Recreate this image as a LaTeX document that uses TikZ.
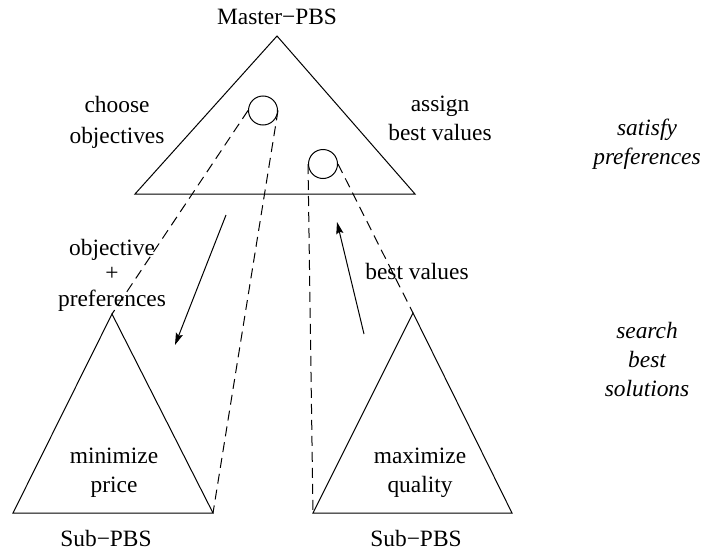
\documentclass[tikz,border=0pt]{standalone}
\usepackage{fontspec}
\setmainfont{Liberation Serif}
\usetikzlibrary{arrows.meta}
\begin{document}
\begin{tikzpicture}[x=0.5pt,y=-0.5pt,
  txt/.style={inner sep=0pt,align=center,font=\fontsize{11.7}{14.5}\selectfont},
  itxt/.style={txt,font=\fontsize{11.7}{14.5}\selectfont\itshape},
  edge/.style={line width=0.5pt,line join=miter},
  link/.style={line width=0.5pt,dash pattern=on 5pt off 3pt},
  hole/.style={circle,draw,line width=0.5pt,minimum size=14.5pt,inner sep=0pt},
  flow/.style={line width=0.5pt,-{Stealth[length=6pt,width=3.6pt,inset=1pt]}}]
  \useasboundingbox (0,0) rectangle (704,551);

  % master problem
  \coordinate (mtop) at (277,36);
  \coordinate (mleft) at (135,194);
  \coordinate (mright) at (415,194);
  \draw[edge] (mtop) -- (mleft) -- (mright) -- cycle;

  % left sub-problem
  \coordinate (ltop) at (112,314);
  \coordinate (lleft) at (13,513);
  \coordinate (lright) at (213,513);
  \draw[edge] (ltop) -- (lleft) -- (lright) -- cycle;

  % right sub-problem
  \coordinate (rtop) at (413,313);
  \coordinate (rleft) at (313,513);
  \coordinate (rright) at (512,513);
  \draw[edge] (rtop) -- (rleft) -- (rright) -- cycle;

  % variables of the master problem
  \node[hole] (c1) at (263,110.5) {};
  \node[hole] (c2) at (323,164) {};

  % projections onto the sub-problems
  \draw[link] (c1.west) -- (ltop);
  \draw[link] (c1.east) -- (lright);
  \draw[link] (c2.west) -- (rleft);
  \draw[link] (c2.east) -- (rtop);

  % messages
  \coordinate (a1s) at (226,215);
  \coordinate (a1e) at (175,345);
  \coordinate (a2s) at (364,334);
  \coordinate (a2e) at (337,222);
  \draw[flow] (a1s) -- (a1e);
  \draw[flow] (a2s) -- (a2e);

  % labels
  \node[txt] (master) at (277,17) {Master−PBS};
  \node[txt,font=\fontsize{11.7}{15.5}\selectfont] (choose) at (117,122.5) {choose\\objectives};
  \node[txt] (assign) at (440,118) {assign\\best values};
  \node[itxt] (satisfy) at (647,144) {satisfy\\preferences};
  \node[txt,font=\fontsize{11.7}{12.8}\selectfont] (objpref) at (112,275) {objective\\+\\preferences};
  \node[txt] (bestval) at (417,271) {best values};
  \node[itxt] (search) at (647,360) {search\\best\\solutions};
  \node[txt] (minimize) at (114,473) {minimize\\price};
  \node[txt] (maximize) at (420,473) {maximize\\quality};
  \node[txt] (subl) at (106,538) {Sub−PBS};
  \node[txt] (subr) at (416,538) {Sub−PBS};
\end{tikzpicture}
\end{document}
